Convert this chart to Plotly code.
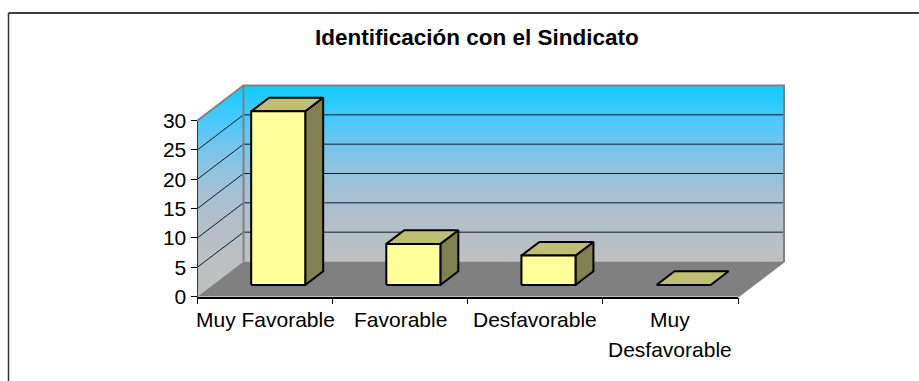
"""Identificación con el Sindicato: columna 3D estilo Excel."""

import plotly.graph_objects as go

CATEGORIES = ["Muy Favorable", "Favorable", "Desfavorable", "Muy<br>Desfavorable"]
VALUES = [29.6, 7, 5, 0]
Y_TICKS = [0, 5, 10, 15, 20, 25, 30]
TITLE = "Identificación con el Sindicato"

W, H = 919, 381
# eje frontal en pixeles
X0, X1 = 197.5, 738.0
Y0, Y30 = 296.5, 120.5
PX_CAT = (X1 - X0) / len(CATEGORIES)
PX_VAL = (Y0 - Y30) / Y_TICKS[-1]

# profundidad completa de la caja, en unidades de los ejes
DEPTH_X = 46 / PX_CAT
DEPTH_Y = 35 / PX_VAL
BAR_D0, BAR_D1 = 0.33, 0.72
BAR_LEFT, BAR_WIDTH = 0.285, 0.40
LABEL_Y = 319.5
LABEL_STEP = 30

FONT = "Liberation Sans, Arial, sans-serif"
WALL_SCALE = [
    [0.00, "#C0C0C0"],
    [0.17, "#BEC0C1"],
    [0.33, "#B4BFC8"],
    [0.50, "#A3C1D6"],
    [0.66, "#84C4E6"],
    [0.82, "#50C8FA"],
    [1.00, "#0FCCFF"],
]


def pt(cat, val, depth):
    """Proyecta (categoria, valor, profundidad) a los ejes de datos."""
    return cat + depth * DEPTH_X, val + depth * DEPTH_Y


def poly(points, fill, line_color="rgba(0,0,0,0)", width=0, gradient=False):
    closed = list(points) + [points[0]]
    trace = dict(
        x=[p[0] for p in closed],
        y=[p[1] for p in closed],
        mode="lines",
        fill="toself",
        line=dict(color=line_color, width=width),
        hoverinfo="skip",
        showlegend=False,
    )
    if gradient:
        trace["fillgradient"] = dict(
            type="vertical", colorscale=WALL_SCALE,
            start=0, stop=Y_TICKS[-1] + DEPTH_Y,
        )
    else:
        trace["fillcolor"] = fill
    return go.Scatter(**trace)


def segment(points, color, width):
    return go.Scatter(
        x=[p[0] for p in points], y=[p[1] for p in points],
        mode="lines", line=dict(color=color, width=width),
        hoverinfo="skip", showlegend=False,
    )


fig = go.Figure()
n = len(CATEGORIES)
top = Y_TICKS[-1]

# paredes y piso
fig.add_trace(poly([pt(0, 0, 0), pt(0, top, 0), pt(0, top, 1), pt(0, 0, 1)], None, gradient=True))
fig.add_trace(poly([pt(0, 0, 1), pt(0, top, 1), pt(n, top, 1), pt(n, 0, 1)], None, gradient=True))
fig.add_trace(poly([pt(0, 0, 0), pt(n, 0, 0), pt(n, 0, 1), pt(0, 0, 1)], "#808080"))

# lineas de division
for tick in Y_TICKS[1:-1]:
    fig.add_trace(segment([pt(0, tick, 0), pt(0, tick, 1), pt(n, tick, 1)], "#0A1E28", 1))

# bordes de la caja
fig.add_trace(segment([pt(0, top, 0), pt(0, top, 1), pt(n, top, 1), pt(n, 0, 1), pt(n, 0, 0)], "#808080", 2))
fig.add_trace(segment([pt(0, 0, 1), pt(0, top, 1)], "#808080", 2))

# columnas
for i, (name, val) in enumerate(zip(CATEGORIES, VALUES)):
    a, b = i + BAR_LEFT, i + BAR_LEFT + BAR_WIDTH
    if val > 0:
        fig.add_trace(poly([pt(b, 0, BAR_D0), pt(b, val, BAR_D0), pt(b, val, BAR_D1), pt(b, 0, BAR_D1)],
                           "#808050", "#000000", 2))
    fig.add_trace(poly([pt(a, val, BAR_D0), pt(b, val, BAR_D0), pt(b, val, BAR_D1), pt(a, val, BAR_D1)],
                       "#BFBF73", "#000000", 2))
    if val > 0:
        fig.add_trace(poly([pt(a, 0, BAR_D0), pt(b, 0, BAR_D0), pt(b, val, BAR_D0), pt(a, val, BAR_D0)],
                           "#FFFF99", "#000000", 2))

# traza vacia para que existan los ejes visibles
fig.add_trace(go.Scatter(x=[None], y=[None], xaxis="x2", yaxis="y2", showlegend=False, hoverinfo="skip"))

# etiquetas de categoria: el interlineado del original es mayor que el de un tick
annotations = [dict(
    text=f"<b>{TITLE}</b>", xref="paper", yref="paper", x=477 / W, y=(H - 38) / H,
    xanchor="center", yanchor="middle", showarrow=False,
    font=dict(family=FONT, size=22.5, color="#000000"),
)]
for i, name in enumerate(CATEGORIES):
    for j, part in enumerate(name.split("<br>")):
        annotations.append(dict(
            text=part, xref="x2", yref="paper", x=i + 0.5, y=(H - LABEL_Y - j * LABEL_STEP) / H,
            xanchor="center", yanchor="middle", showarrow=False,
            font=dict(family=FONT, size=21, color="#000000"),
        ))

fig.update_layout(
    template="none",
    width=W,
    height=H,
    margin=dict(l=0, r=0, t=0, b=0, pad=0, autoexpand=False),
    paper_bgcolor="white",
    plot_bgcolor="rgba(0,0,0,0)",
    showlegend=False,
    font=dict(family=FONT, size=18, color="#000000"),
    # ejes de datos: misma escala que los visibles, ocupan toda la figura
    xaxis=dict(visible=False, domain=[0, 1], automargin=False,
               range=[-X0 / PX_CAT, (W - X0) / PX_CAT]),
    yaxis=dict(visible=False, domain=[0, 1], automargin=False,
               range=[-(H - Y0) / PX_VAL, Y0 / PX_VAL]),
    xaxis2=dict(
        domain=[X0 / W, X1 / W], range=[0, n], anchor="y2", automargin=False,
        showgrid=False, zeroline=False, showline=True, linecolor="#000000", linewidth=1.5,
        tickmode="array", tickvals=list(range(n + 1)), showticklabels=False,
        ticks="outside", ticklen=6, tickcolor="#000000", tickwidth=1,
    ),
    yaxis2=dict(
        domain=[(H - Y0) / H, (H - Y30) / H], range=[0, top], anchor="x2", automargin=False,
        showgrid=False, zeroline=False, showline=True, linecolor="#333333", linewidth=1,
        tickmode="array", tickvals=Y_TICKS, ticks="outside", ticklen=6,
        tickcolor="#000000", tickfont=dict(size=21),
    ),
    annotations=annotations,
    shapes=[
        dict(type="line", xref="paper", yref="paper", x0=8.5 / W, x1=1, y0=(H - 13) / H, y1=(H - 13) / H,
             line=dict(color="#000000", width=1.5)),
        dict(type="line", xref="paper", yref="paper", x0=8.5 / W, x1=8.5 / W, y0=0, y1=(H - 13) / H,
             line=dict(color="#333333", width=1.5)),
    ],
)

fig.write_html("out.html", config=dict(displayModeBar=False),
               post_script="document.body.style.margin='0';document.body.style.overflow='hidden';")
